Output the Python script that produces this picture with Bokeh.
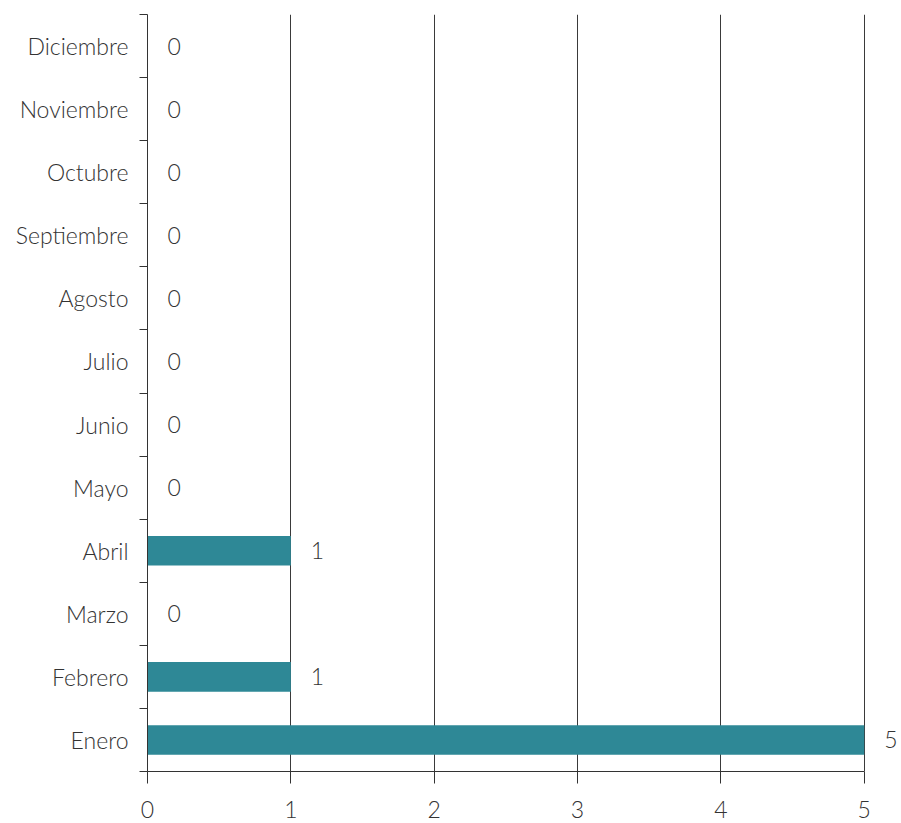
from bokeh.plotting import figure
from bokeh.models import ColumnDataSource, FixedTicker, Range1d
from bokeh.core.properties import value
from bokeh.embed import file_html
from bokeh.resources import INLINE

months = ["Enero", "Febrero", "Marzo", "Abril", "Mayo", "Junio", "Julio",
          "Agosto", "Septiembre", "Octubre", "Noviembre", "Diciembre"]
counts = [5, 1, 0, 1, 0, 0, 0, 0, 0, 0, 0, 0]
x_ticks = [0, 1, 2, 3, 4, 5]

pos = [i + 1 for i in range(len(months))]
src = ColumnDataSource(dict(y=pos, v=counts, lab=[str(c) for c in counts]))

FONT = "Lato Light"
FS = "23px"
TXT = "#333333"

# x range runs a little past 5 so the value label of the longest bar has room
p = figure(width=901, height=823, output_backend="svg", toolbar_location=None,
           x_range=Range1d(0, 5.26), y_range=Range1d(0.5, len(months) + 0.5),
           min_border_left=147, min_border_right=0, min_border_top=14,
           min_border_bottom=52)
p.outline_line_color = None
p.background_fill_color = "white"

p.hbar(y="y", left=0, right="v", height=0.47, source=src,
       fill_color="#2e8896", line_color=None)
p.text(x="v", y="y", text="lab", source=src, x_offset=20,
       text_align="left", text_baseline="middle",
       text_font=value(FONT), text_font_size=FS, text_color=TXT)

# x axis
p.xaxis.ticker = FixedTicker(ticks=x_ticks)
p.xaxis.bounds = (x_ticks[0], x_ticks[-1])
p.xaxis.major_tick_out = 12
p.xaxis.major_tick_in = 0
p.xaxis.minor_tick_out = 0
p.xaxis.axis_line_color = TXT
p.xaxis.major_tick_line_color = TXT
p.xaxis.major_label_text_font = FONT
p.xaxis.major_label_text_font_size = FS
p.xaxis.major_label_text_color = TXT
p.xaxis.major_label_standoff = 17

p.xgrid.ticker = FixedTicker(ticks=x_ticks)
p.xgrid.grid_line_color = "#3a3a3a"
p.xgrid.grid_line_width = 1
p.ygrid.grid_line_color = None

# y axis: labels at centers, ticks at boundaries
p.yaxis.ticker = FixedTicker(ticks=pos,
                             minor_ticks=[i + 0.5 for i in range(len(months) + 1)])
p.yaxis.major_label_overrides = {k: m for k, m in zip(pos, months)}
p.yaxis.major_tick_out = 0
p.yaxis.major_tick_in = 0
p.yaxis.minor_tick_out = 8
p.yaxis.minor_tick_in = 0
p.yaxis.minor_tick_line_color = TXT
p.yaxis.axis_line_color = TXT
p.yaxis.major_label_text_font = FONT
p.yaxis.major_label_text_font_size = FS
p.yaxis.major_label_text_color = TXT
p.yaxis.major_label_standoff = 11

open("out.html", "w").write(file_html(p, INLINE))
